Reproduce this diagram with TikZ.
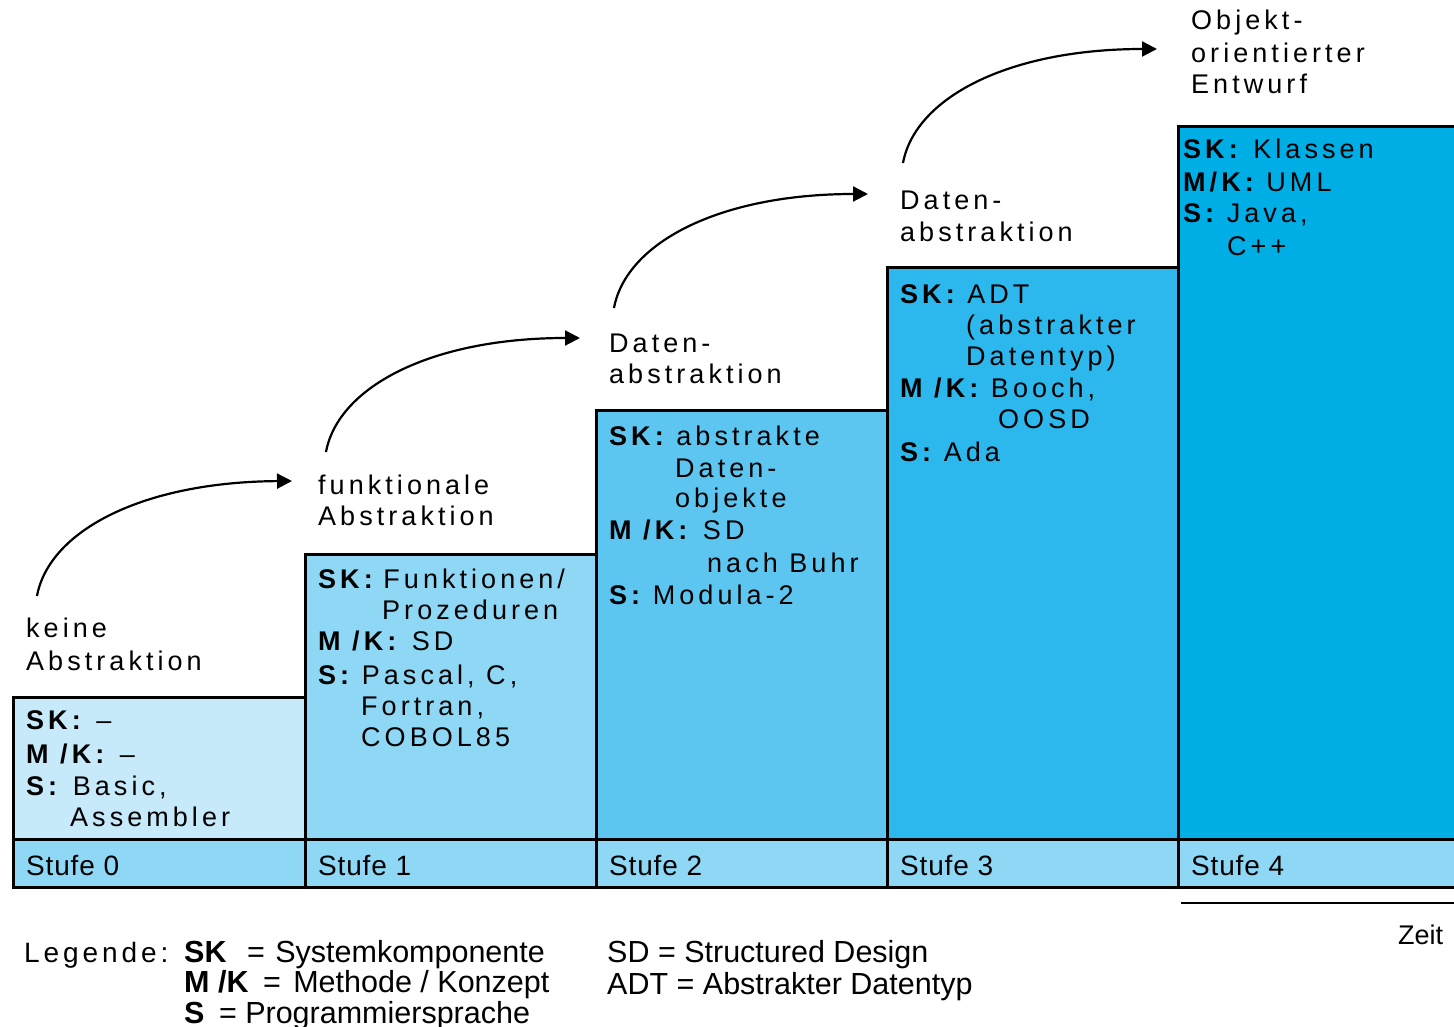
\documentclass[tikz,border=0pt]{standalone}
\usepackage{fontspec}
\setmainfont{Liberation Sans}
\newfontfamily\spc[LetterSpace=15]{Liberation Sans}
\newfontfamily\spcs[LetterSpace=3]{Liberation Sans}
\newfontfamily\spcl[LetterSpace=14]{Liberation Sans}
\usetikzlibrary{arrows.meta,calc}
\definecolor{cA}{HTML}{C6EAFA}
\definecolor{cB}{HTML}{8FD8F5}
\definecolor{cC}{HTML}{5CC6F0}
\definecolor{cD}{HTML}{2CB8EC}
\definecolor{cE}{HTML}{00AEE6}
\newcommand\tline[4]{\node[txt] (#1) at (#2,#3) {#4};}
\begin{document}
\begin{tikzpicture}[x=1pt,y=-1pt,
  box/.style={draw=black, line width=3pt, anchor=north west, inner sep=0pt, minimum width=292pt},
  txt/.style={anchor=base west, inner sep=0pt, font=\spc\fontsize{27}{32}\selectfont},
  stufetxt/.style={anchor=base west, inner sep=0pt, font=\spcs\fontsize{28}{32}\selectfont},
  legtxt/.style={anchor=base west, inner sep=0pt, font=\fontsize{30.5}{32}\selectfont},
  flow/.style={line width=2.2pt, -{Triangle[length=15pt,width=15pt]}}]
\useasboundingbox (0,0) rectangle (1454,1027);
\fill[white] (0,0) rectangle (1454,1027);
% level boxes
\node[box, fill=cA, minimum height=142pt] (b0) at (12,696) {};
\node[box, fill=cB, minimum height=285pt] (b1) at (304,553) {};
\node[box, fill=cC, minimum height=429pt] (b2) at (595,409) {};
\node[box, fill=cD, minimum height=572pt] (b3) at (886,266) {};
\node[box, fill=cE, minimum height=713pt, minimum width=300pt] (b4) at (1177,125) {};
% stage row
\node[box, fill=cB, minimum height=48pt] (s0) at (12,838) {};
\node[box, fill=cB, minimum height=48pt] (s1) at (304,838) {};
\node[box, fill=cB, minimum height=48pt] (s2) at (595,838) {};
\node[box, fill=cB, minimum height=48pt] (s3) at (886,838) {};
\node[box, fill=cB, minimum height=48pt, minimum width=300pt] (s4) at (1177,838) {};
\node[stufetxt] (st0) at (26,875) {Stufe 0};
\node[stufetxt] (st1) at (318,875) {Stufe 1};
\node[stufetxt] (st2) at (609,875) {Stufe 2};
\node[stufetxt] (st3) at (900,875) {Stufe 3};
\node[stufetxt] (st4) at (1191,875) {Stufe 4};
% box 0
\tline{b0a}{26}{729}{\textbf{SK:} –}
\tline{b0b}{26}{763}{\textbf{M /K:} –}
\tline{b0c}{26}{795}{\textbf{S:} Basic,}
\tline{b0d}{70}{826}{Assembler}
\tline{l0a}{26}{637}{keine}
\tline{l0b}{26}{670}{Abstraktion}
% box 1
\tline{b1a}{318}{588}{\textbf{SK:}\hspace{-5pt} Funktionen/}
\tline{b1b}{382}{619}{Prozeduren}
\tline{b1c}{318}{650}{\textbf{M /K:} SD}
\tline{b1d}{318}{684}{\textbf{S:}\hspace{-3pt} Pascal, C,}
\tline{b1e}{361}{715}{Fortran,}
\tline{b1f}{361}{746}{COBOL85}
\tline{l1a}{318}{494}{funktionale}
\tline{l1b}{318}{525}{Abstraktion}
% box 2
\tline{b2a}{609}{445}{\textbf{SK:}\hspace{-3pt} abstrakte}
\tline{b2b}{675}{477}{Daten-}
\tline{b2c}{675}{507}{objekte}
\tline{b2d}{609}{539}{\textbf{M /K:} SD}
\tline{b2e}{707}{572}{nach Buhr}
\tline{b2f}{609}{604}{\textbf{S:}\hspace{-3pt} Modula-2}
\tline{l2a}{609}{352}{Daten-}
\tline{l2b}{609}{383}{abstraktion}
% box 3
\tline{b3a}{900}{303}{\textbf{SK:}\hspace{-3pt} ADT}
\tline{b3b}{966}{334}{(abstrakter}
\tline{b3c}{966}{365}{Datentyp)}
\tline{b3d}{900}{397}{\textbf{M /K:}\hspace{-3pt} Booch,}
\tline{b3e}{998}{428}{OOSD}
\tline{b3f}{900}{461}{\textbf{S:}\hspace{-3pt} Ada}
\tline{l3a}{900}{210}{Daten-}
\tline{l3b}{900}{241}{abstraktion}
% box 4
\tline{b4a}{1183}{159}{\textbf{SK:} Klassen}
\tline{b4b}{1183}{192}{\textbf{M/K:}\hspace{-3pt} UML}
\tline{b4c}{1183}{223}{\textbf{S:}\hspace{-3pt} Java,}
\tline{b4d}{1227}{255}{C++}
\tline{l4a}{1191}{30}{Objekt-}
\tline{l4b}{1191}{63}{orientierter}
\tline{l4c}{1191}{94}{Entwurf}
% arrows
\coordinate (a0s) at (37,596);  \coordinate (a0e) at (292,481);
\coordinate (a1s) at (326,452); \coordinate (a1e) at (580,338);
\coordinate (a2s) at (614,308); \coordinate (a2e) at (868,194);
\coordinate (a3s) at (903,163); \coordinate (a3e) at (1157,49);
\foreach \i in {0,1,2,3}{
  \draw[flow] (a\i s) .. controls ($(a\i s)+(12,-65)$) and ($(a\i s)+(105,-114)$) .. (a\i e);
}
% time axis
\coordinate (z0) at (1181,903);
\coordinate (z1) at (1475,903);
\draw[line width=1.8pt, -{Triangle[length=14pt,width=14pt]}] (z0) -- (z1);
\node[legtxt, font=\fontsize{27}{32}\selectfont] (zeit) at (1398,944) {Zeit};
% legend
\node[anchor=base west, inner sep=0pt, font=\spcl\fontsize{28}{32}\selectfont] (leg) at (24,962) {Legende:};
\node[legtxt] (lg1) at (184,962) {\textbf{SK}\hspace{12pt} = \hspace{2pt}Systemkomponente};
\node[legtxt] (lg2) at (184,992) {\textbf{M /K}\hspace{6pt} = \hspace{4pt}Methode / Konzept};
\node[legtxt] (lg3) at (184,1023) {\textbf{S}\hspace{6pt} = Programmiersprache};
\node[legtxt] (lg4) at (607,962) {SD = Structured Design};
\node[legtxt] (lg5) at (607,994) {ADT = Abstrakter Datentyp};
\end{tikzpicture}
\end{document}
